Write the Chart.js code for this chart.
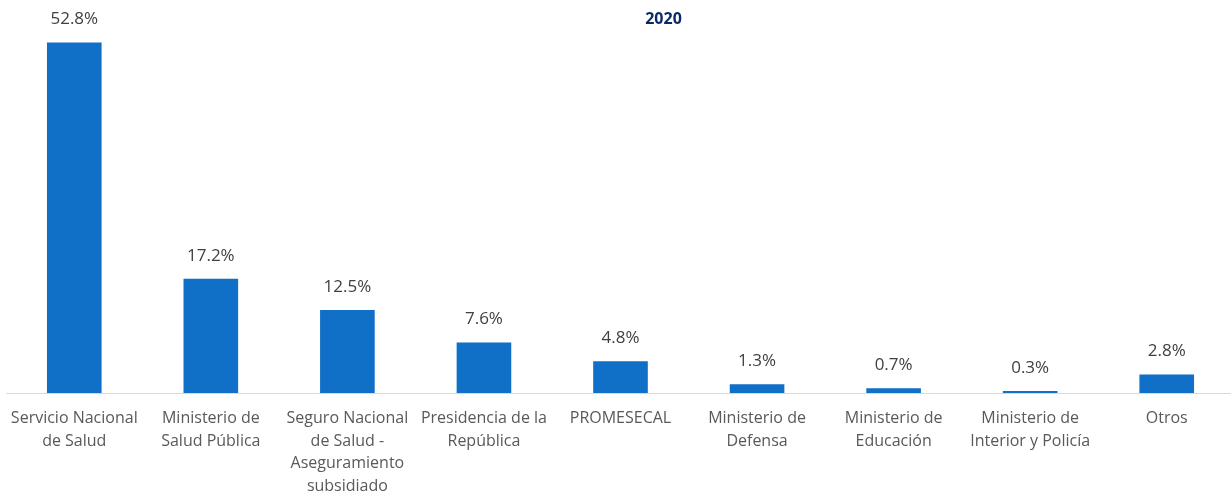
<!DOCTYPE html>
<html>
<head>
<meta charset="utf-8">
<script src="https://cdn.jsdelivr.net/npm/chart.js@4"></script>
<style>
html,body{margin:0;padding:0;background:#fff;overflow:hidden;}
#wrap{position:relative;width:1231px;height:495px;overflow:hidden;}
#title{position:absolute;left:0;width:1327px;top:8px;text-align:center;font-family:"Open Sans",sans-serif;font-weight:bold;font-size:16px;color:#0A2A66;line-height:20px;}
canvas{position:absolute;left:0;top:0;}
</style>
</head>
<body>
<div id="wrap">
<canvas id="c" width="1235" height="495"></canvas>
<div id="title">2020</div>
</div>
<script>
const categories = [
  ["Servicio Nacional","de Salud"],
  ["Ministerio de","Salud Pública"],
  ["Seguro Nacional","de Salud -","Aseguramiento","subsidiado"],
  ["Presidencia de la","República"],
  ["PROMESECAL"],
  ["Ministerio de","Defensa"],
  ["Ministerio de","Educación"],
  ["Ministerio de","Interior y Policía"],
  ["Otros"]
];
const shares = [52.8, 17.2, 12.5, 7.6, 4.8, 1.3, 0.7, 0.3, 2.8];

const labelPlugin = {
  id: 'valueLabels',
  afterDatasetsDraw(chart) {
    const ctx = chart.ctx;
    const meta = chart.getDatasetMeta(0);
    ctx.save();
    ctx.font = '17px "Open Sans", sans-serif';
    ctx.fillStyle = '#404040';
    ctx.textAlign = 'center';
    ctx.textBaseline = 'middle';
    meta.data.forEach((bar, i) => {
      ctx.fillText(shares[i].toFixed(1) + '%', bar.x, bar.y - 23);
    });
    ctx.restore();
  }
};

new Chart(document.getElementById('c'), {
  type: 'bar',
  data: {
    labels: categories,
    datasets: [{
      data: shares,
      backgroundColor: '#106FC6',
      borderWidth: 0,
      barPercentage: 0.4,
      categoryPercentage: 1.0
    }]
  },
  options: {
    responsive: false,
    animation: false,
    layout: { padding: { top: 28, left: 6, right: 0, bottom: 0 } },
    plugins: { legend: { display: false }, title: { display: false }, tooltip: { enabled: false } },
    scales: {
      x: {
        afterFit(scale) { scale.height = 102; scale.paddingLeft = 0; scale.paddingRight = 0; },
        grid: { display: false, drawTicks: false },
        border: { display: true, color: '#D9D9D9', width: 1 },
        ticks: {
          color: '#595959',
          font: { family: '"Open Sans", sans-serif', size: 16, lineHeight: 1.42 },
          padding: 14,
          maxRotation: 0,
          autoSkip: false
        }
      },
      y: {
        display: false,
        min: 0,
        max: 55
      }
    }
  },
  plugins: [labelPlugin]
});
</script>
</body>
</html>
